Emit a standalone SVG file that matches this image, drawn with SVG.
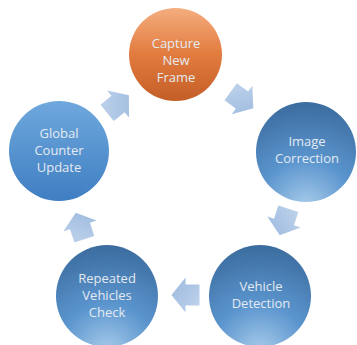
<svg xmlns="http://www.w3.org/2000/svg" width="357" height="345" viewBox="0 0 357 345">
<defs>
<linearGradient id="gOrange" x1="0" y1="0" x2="0" y2="1">
<stop offset="0" stop-color="#f4ad7e"/>
<stop offset="0.5" stop-color="#e27b3e"/>
<stop offset="1" stop-color="#c35e27"/>
</linearGradient>
<linearGradient id="gBlueTop" x1="0" y1="0" x2="0" y2="1">
<stop offset="0" stop-color="#6fa8dd"/>
<stop offset="1" stop-color="#3f7ec2"/>
</linearGradient>
<radialGradient id="gBlueGlow" cx="0.5" cy="1.05" r="1.05" fx="0.5" fy="1.05">
<stop offset="0" stop-color="#a9cceb"/>
<stop offset="0.45" stop-color="#5b95ce"/>
<stop offset="1" stop-color="#3b6c9f"/>
</radialGradient>
<linearGradient id="gArrow" x1="0" y1="0" x2="1" y2="1">
<stop offset="0" stop-color="#c0d4ec"/>
<stop offset="1" stop-color="#9cb9de"/>
</linearGradient>
<path id="arr" d="M-14,-10.5 H0 V-17.5 L14,0 L0,17.5 V10.5 H-14 Z"/>
</defs>
<style>
text{font-family:"Open Sans","Liberation Sans",sans-serif;font-size:13px;fill:#e4eaf1;text-anchor:middle}
.arrow{fill:url(#gArrow)}
</style>
<g id="connectors">
<use href="#arr" class="arrow" transform="translate(118,104) rotate(-39)"/>
<use href="#arr" class="arrow" transform="translate(242,100) rotate(36)"/>
<use href="#arr" class="arrow" transform="translate(284,222) rotate(108)"/>
<use href="#arr" class="arrow" transform="translate(185.5,295) rotate(180)"/>
<use href="#arr" class="arrow" transform="translate(80,226) rotate(-108)"/>
</g>
<g id="capture">
<circle cx="175.5" cy="54.5" r="46.5" fill="url(#gOrange)"/>
<text x="176" y="48">Capture</text>
<text x="176" y="65">New</text>
<text x="176" y="82">Frame</text>
</g>
<g id="image-correction">
<circle cx="306" cy="152" r="50" fill="url(#gBlueGlow)"/>
<text x="307" y="146">Image</text>
<text x="307" y="163">Correction</text>
</g>
<g id="vehicle-detection">
<circle cx="260" cy="296" r="51" fill="url(#gBlueGlow)"/>
<text x="261" y="291">Vehicle</text>
<text x="261" y="308">Detection</text>
</g>
<g id="repeated-vehicles-check">
<circle cx="107" cy="296" r="51" fill="url(#gBlueGlow)"/>
<text x="107" y="283">Repeated</text>
<text x="107" y="300">Vehicles</text>
<text x="107" y="317">Check</text>
</g>
<g id="global-counter-update">
<circle cx="59" cy="151" r="50" fill="url(#gBlueTop)"/>
<text x="59" y="138">Global</text>
<text x="59" y="155">Counter</text>
<text x="59" y="172">Update</text>
</g>
</svg>
